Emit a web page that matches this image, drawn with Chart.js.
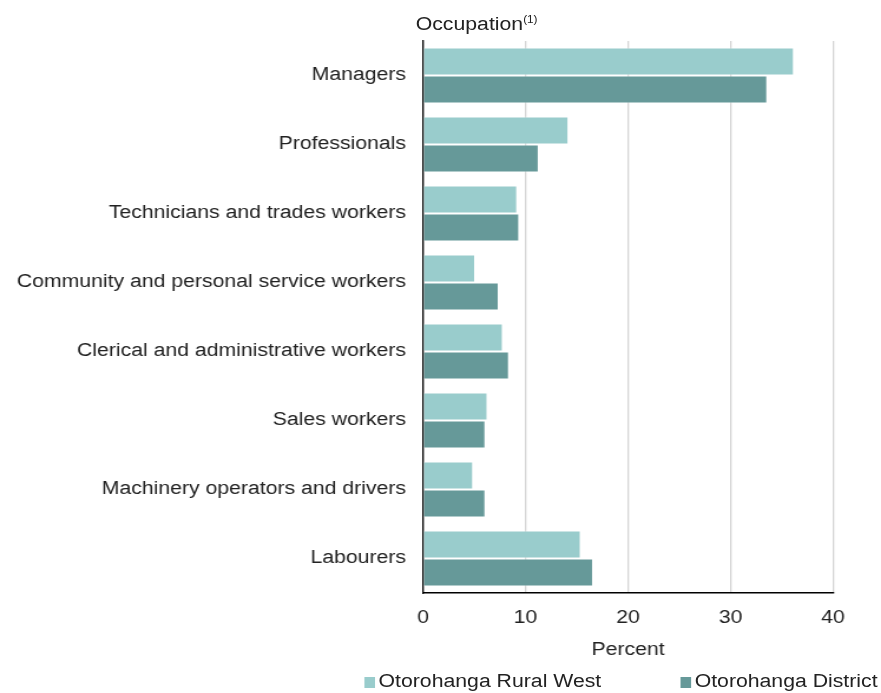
<!DOCTYPE html>
<html>
<head>
<meta charset="utf-8">
<script src="https://cdn.jsdelivr.net/npm/chart.js@4"></script>
<style>
  body { margin: 0; background: #fff; }
  #frame { position: relative; width: 881px; height: 693px; overflow: hidden; }
  /* the source picture is a little stretched sideways, so draw at 747px and widen */
  #wrap { position: absolute; left: 0; top: 0; width: 747px; height: 693px; transform: scaleX(1.1794); transform-origin: 0 0; }
  #title, .legend-item {
    position: absolute;
    font-family: "Liberation Sans", Arial, sans-serif;
    font-size: 18px;
    color: #222;
    line-height: 22px;
    white-space: nowrap;
  }
  #title { left: 352.5px; top: 9px; }
  #title sup { font-size: 10px; vertical-align: 7px; }
  .legend-item .box {
    display: inline-block; width: 9.5px; height: 11px; margin-right: 3px; vertical-align: -1px;
  }
</style>
</head>
<body>
<div id="frame">
<div id="wrap">
  <canvas id="occupation-chart" width="747" height="693"></canvas>
  <div id="title">Occupation<sup>(1)</sup></div>
  <div class="legend-item" style="left:308.5px; top:670px;"><span class="box" style="background:#99cccc"></span>Otorohanga Rural West</div>
  <div class="legend-item" style="left:576.5px; top:670px;"><span class="box" style="background:#669999"></span>Otorohanga District</div>
</div>
</div>
<script>
// Categories (top to bottom)
const occupations = [
  'Managers',
  'Professionals',
  'Technicians and trades workers',
  'Community and personal service workers',
  'Clerical and administrative workers',
  'Sales workers',
  'Machinery operators and drivers',
  'Labourers',
];

// Percent of employed people, by area
const ruralWest = [36.2, 14.2, 9.2, 5.1, 7.8, 6.3, 4.9, 15.4];
const district = [33.6, 11.3, 9.4, 7.4, 8.4, 6.1, 6.1, 16.6];

const xTicks = [0, 10, 20, 30, 40];

const ctx = document.getElementById('occupation-chart').getContext('2d');

new Chart(ctx, {
  type: 'bar',
  data: {
    labels: occupations,
    datasets: [
      {
        label: 'Otorohanga Rural West',
        data: ruralWest,
        backgroundColor: '#99cccc',
        borderColor: 'rgba(255,255,255,0.5)',
        borderWidth: 1,
      },
      {
        label: 'Otorohanga District',
        data: district,
        backgroundColor: '#669999',
        borderColor: 'rgba(255,255,255,0.5)',
        borderWidth: 1,
      },
    ],
  },
  options: {
    indexAxis: 'y',
    responsive: false,
    animation: false,
    devicePixelRatio: 1,
    layout: { padding: { top: 41, right: 40.7, bottom: 28, left: 0 } },
    datasets: { bar: { categoryPercentage: 0.81, barPercentage: 1 } },
    plugins: {
      legend: { display: false },
      tooltip: { enabled: false },
    },
    scales: {
      x: {
        min: 0,
        max: 40,
        afterBuildTicks: scale => { scale.ticks = xTicks.map(v => ({ value: v })); },
        afterFit: scale => { scale.height = 72; },
        grid: { color: '#d4d4d4', lineWidth: 1.3, drawTicks: false },
        border: { color: '#000', width: 1.5 },
        ticks: {
          padding: 14,
          color: '#222',
          font: { family: 'Liberation Sans', size: 18 },
        },
        title: {
          display: true,
          text: 'Percent',
          color: '#222',
          font: { family: 'Liberation Sans', size: 18 },
          padding: { top: 8, bottom: 4 },
        },
      },
      y: {
        afterFit: scale => { scale.width = 358.7; },
        grid: { display: false, drawTicks: false },
        border: { color: '#000', width: 1.3 },
        ticks: {
          padding: 14.4,
          color: '#222',
          font: { family: 'Liberation Sans', size: 18 },
        },
      },
    },
  },
});
</script>
</body>
</html>
